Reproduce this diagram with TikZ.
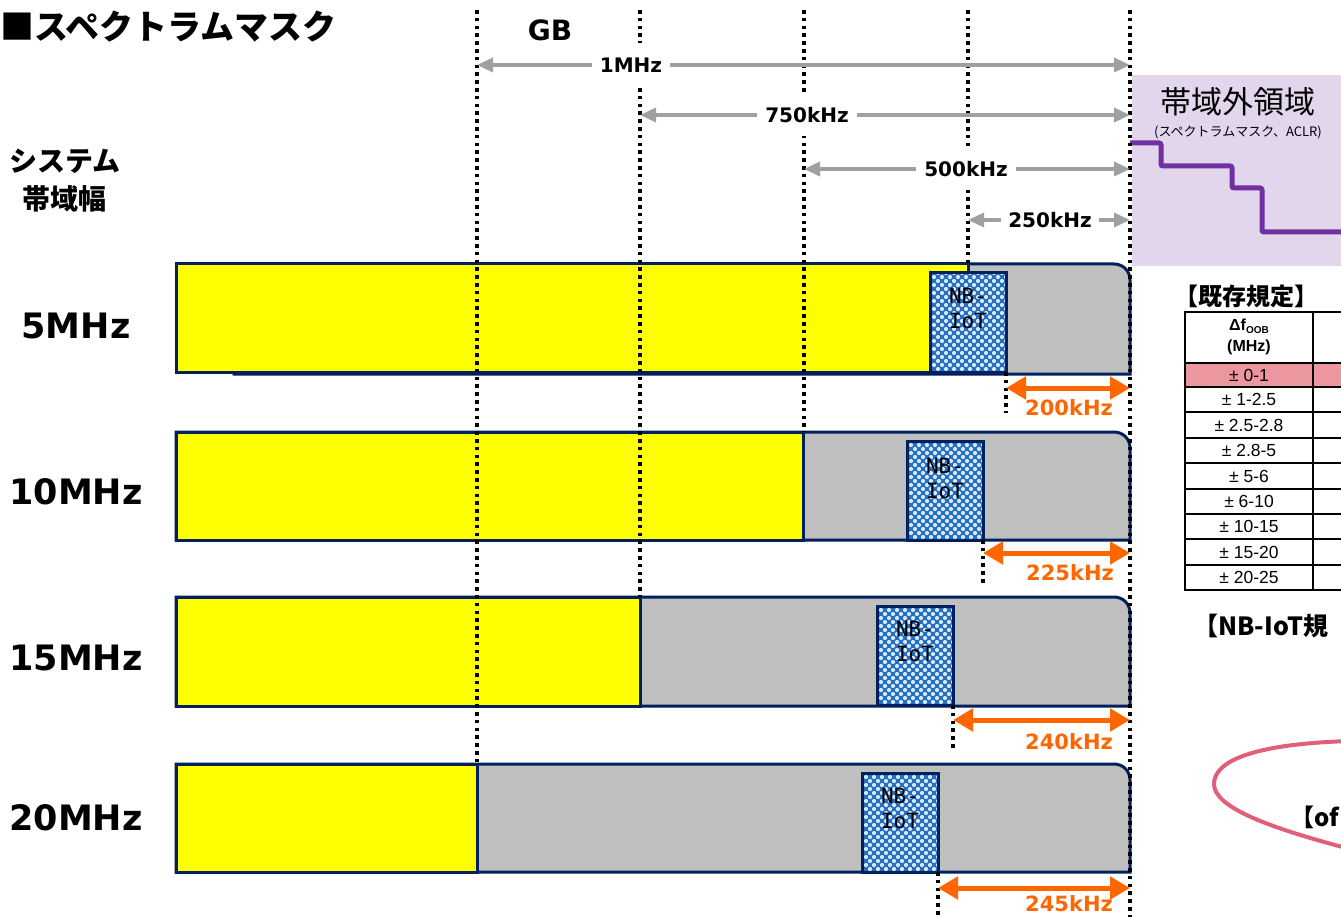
\documentclass[tikz,border=0pt]{standalone}
\usepackage{fontspec}
\usetikzlibrary{arrows.meta,calc}
\newfontfamily\jp{Noto Sans CJK JP}
\newfontfamily\dv{DejaVu Sans}
\newfontfamily\dvm{DejaVu Sans Mono}
\newfontfamily\ar{Liberation Sans}
\definecolor{navy}{RGB}{0,32,96}
\definecolor{bargray}{RGB}{191,191,191}
\definecolor{yel}{RGB}{255,255,0}
\definecolor{agray}{RGB}{160,160,160}
\definecolor{orng}{RGB}{255,102,0}
\definecolor{lav}{RGB}{226,214,236}
\definecolor{purp}{RGB}{112,48,160}
\definecolor{nbblue}{RGB}{35,110,195}
\definecolor{nbdot}{RGB}{215,232,250}
\definecolor{pinkrow}{RGB}{236,150,160}
\definecolor{ellc}{RGB}{225,95,120}
\begin{document}
\begin{tikzpicture}[x=1pt,y=-1pt,
  dotline/.style={line width=3.6pt, dash pattern=on 3.6pt off 4.2pt, black},
  garrow/.style={draw=agray, line width=3.5pt, {Triangle[length=16pt,width=14pt]}-{Triangle[length=16pt,width=14pt]}},
  glabel/.style={fill=white, inner xsep=8pt, inner ysep=14pt, text height=15pt, text depth=0pt, font=\dv\bfseries\fontsize{20}{24}\selectfont},
  oarrow/.style={draw=orng, line width=5pt, {Triangle[length=20pt,width=22pt]}-{Triangle[length=20pt,width=22pt]}},
  olabel/.style={text=orng, inner sep=0pt, font=\dv\bfseries\fontsize{21}{24}\selectfont},
  barline/.style={draw=navy, line width=3pt},
  graybar/.style={barline, fill=bargray},
  yelbar/.style={barline, fill=yel},
  nbbox/.style={draw=navy, line width=3pt, fill=nbblue, minimum width=76pt, minimum height=99pt, inner sep=0pt, outer sep=0pt, anchor=north west,
    path picture={
      \foreach \i in {0,...,10}{\foreach \j in {0,...,13}{
        \fill[nbdot] ([xshift=\i*8pt,yshift=-\j*8pt]path picture bounding box.north west) circle (2.1pt);
        \fill[nbdot] ([xshift=\i*8pt+4pt,yshift=-\j*8pt-4pt]path picture bounding box.north west) circle (2.1pt);
      }}
    }},
  nbtext/.style={align=center, inner sep=0pt, font=\dvm\fontsize{21}{25}\selectfont},
  bwlabel/.style={inner sep=0pt, font=\dv\bfseries\fontsize{35}{40}\selectfont},
  tabline/.style={line width=2.5pt, black},
  tabtext/.style={inner sep=0pt, font=\ar\fontsize{17.5}{20}\selectfont},
  jpbold/.style={inner sep=0pt, font=\jp\bfseries\fontsize{#1}{#1}\selectfont},
]
\useasboundingbox (0,0) rectangle (1341,917);
\clip (0,0) rectangle (1341,917);
\fill[white] (0,0) rectangle (1341,917);

% out-of-band region
\fill[lav] (1132,75) rectangle (1345,266);
\draw[purp, line width=5pt, rounded corners=2pt] (1130,143) -- (1161,143) -- (1161,166) -- (1232,166) -- (1232,188) -- (1262,188) -- (1262,232) -- (1350,232);
\node[inner sep=0pt, font=\jp\fontsize{31}{31}\selectfont] (oob) at (1238,102) {帯域外領域};
\node[inner sep=0pt, font=\jp\fontsize{13}{13}\selectfont] (oobsub) at (1238,132) {(スペクトラムマスク、ACLR)};

% bars
\draw[graybar] (234,374) -- (234,264) -- (1114,264) .. controls (1123,264) and (1130,271) .. (1130,280) -- (1130,374) -- cycle;
\draw[yelbar] (176,264) rectangle (968,372);
\node[nbbox] (nb5) at (930,273) {};
\node[nbtext] (nb5t) at ([yshift=-35pt]nb5.north) {NB-\\IoT};

\draw[graybar] (176,540) -- (176,432) -- (1114,432) .. controls (1123,432) and (1130,439) .. (1130,448) -- (1130,540) -- cycle;
\draw[yelbar] (176,432) rectangle (803,540);
\node[nbbox] (nb10) at (907,441) {};
\node[nbtext] (nb10t) at ([yshift=-37pt]nb10.north) {NB-\\IoT};

\draw[graybar] (176,706) -- (176,597) -- (1114,597) .. controls (1123,597) and (1130,604) .. (1130,613) -- (1130,706) -- cycle;
\draw[yelbar] (176,597) rectangle (640,706);
\node[nbbox] (nb15) at (877,606) {};
\node[nbtext] (nb15t) at ([yshift=-35pt]nb15.north) {NB-\\IoT};

\draw[graybar] (176,872) -- (176,764) -- (1114,764) .. controls (1123,764) and (1130,771) .. (1130,780) -- (1130,872) -- cycle;
\draw[yelbar] (176,764) rectangle (477,872);
\node[nbbox] (nb20) at (862,773) {};
\node[nbtext] (nb20t) at ([yshift=-35pt]nb20.north) {NB-\\IoT};

% dotted guide lines
\draw[dotline] (477,10) -- (477,764);
\draw[dotline] (640,10) -- (640,597);
\draw[dotline] (804,10) -- (804,432);
\draw[dotline] (968,10) -- (968,264);
\draw[dotline] (1130,10) -- (1130,917);

% gray dimension arrows
\coordinate (g1a) at (477,65);  \coordinate (g1b) at (1130,65);
\coordinate (g2a) at (640,115); \coordinate (g2b) at (1130,115);
\coordinate (g3a) at (804,169); \coordinate (g3b) at (1130,169);
\coordinate (g4a) at (968,220); \coordinate (g4b) at (1130,220);
\draw[garrow] (g1a) -- (g1b);
\draw[garrow] (g2a) -- (g2b);
\draw[garrow] (g3a) -- (g3b);
\draw[garrow] (g4a) -- (g4b);
\node[glabel] (g1) at (631,65) {1MHz};
\node[glabel] (g2) at (807,115) {750kHz};
\node[glabel] (g3) at (966,169) {500kHz};
\node[glabel, inner xsep=7pt] (g4) at (1050,220) {250kHz};

% orange arrows
\coordinate (o5a) at (1006,388);  \coordinate (o5b) at (1130,388);
\coordinate (o10a) at (983,553);  \coordinate (o10b) at (1130,553);
\coordinate (o15a) at (953,720);  \coordinate (o15b) at (1130,720);
\coordinate (o20a) at (938,888);  \coordinate (o20b) at (1130,888);
\coordinate (d5) at (1006,413);
\coordinate (d10) at (983,583);
\coordinate (d15) at (953,750);
\coordinate (d20) at (938,920);
\draw[dotline] (d5 |- nb5.south) -- (d5);
\draw[dotline] (d10 |- nb10.south) -- (d10);
\draw[dotline] (d15 |- nb15.south) -- (d15);
\draw[dotline] (d20 |- nb20.south) -- (d20);
\draw[oarrow] (o5a) -- (o5b);
\draw[oarrow] (o10a) -- (o10b);
\draw[oarrow] (o15a) -- (o15b);
\draw[oarrow] (o20a) -- (o20b);
\node[olabel] (ol5) at (1069,408) {200kHz};
\node[olabel] (ol10) at (1070,573) {225kHz};
\node[olabel] (ol15) at (1069,742) {240kHz};
\node[olabel] (ol20) at (1069,904) {245kHz};

% titles and labels
\node[jpbold=34, anchor=west] (title) at (0,27) {■スペクトラムマスク};
\node[inner sep=0pt, font=\dv\bfseries\fontsize{28}{28}\selectfont] (gb) at (550,30) {GB};
\node[inner sep=0pt, align=center, font=\jp\bfseries\fontsize{28}{38}\selectfont] (sysbw) at (65,181) {システム\\帯域幅};
\node[bwlabel] (bw5) at (76,326) {5MHz};
\node[bwlabel] (bw10) at (76,492) {10MHz};
\node[bwlabel] (bw15) at (76,658) {15MHz};
\node[bwlabel] (bw20) at (76,818) {20MHz};

% table
\node[jpbold=24] (kizon) at (1246,296) {【既存規定】};
\fill[pinkrow] (1185,363) rectangle (1350,387);
\draw[tabline] (1185,312) rectangle (1360,590);
\foreach \y in {363,387,412,438,463,489,514,539,565} \draw[tabline] (1185,\y) -- (1360,\y);
\draw[tabline] (1313,312) -- (1313,590);
\node[inner sep=0pt, align=center, font=\ar\bfseries\fontsize{16}{21}\selectfont] (hdr) at (1249,337) {Δf\raisebox{-3pt}{\fontsize{10}{10}\selectfont OOB}\\(MHz)};
\foreach \t/\y [count=\k] in {± 0-1/375, ± 1-2.5/399.5, ± 2.5-2.8/425, ± 2.8-5/450.5, ± 5-6/476, ± 6-10/501.5, ± 10-15/526.5, ± 15-20/552, ± 20-25/577.5}
  \node[tabtext] (row\k) at (1249,\y) {\t};

\node[jpbold=25, anchor=west] (nbreg) at (1193,626) {【NB-IoT規};

% callout ellipse
\draw[ellc, line width=4pt] (1350,741) .. controls (1250,744) and (1214,762) .. (1214,784) .. controls (1214,806) and (1262,826) .. (1350,849);
\node[jpbold=24, anchor=west] (ofs) at (1290,817) {【of};
\end{tikzpicture}
\end{document}
